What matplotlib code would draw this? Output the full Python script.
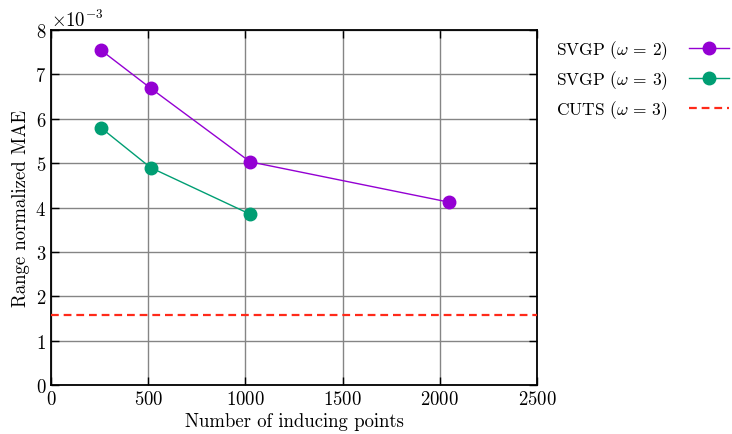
import matplotlib
matplotlib.use("Agg")
import matplotlib.pyplot as plt
import numpy as np

plt.rcParams["font.family"] = "serif"
plt.rcParams["font.serif"] = ["cmr10"]
plt.rcParams["mathtext.fontset"] = "cm"
plt.rcParams["axes.formatter.use_mathtext"] = True
plt.rcParams["font.size"] = 13.5

# data
inducing_w2 = [256, 512, 1024, 2048]
mae_w2 = [7.55e-3, 6.69e-3, 5.03e-3, 4.12e-3]
inducing_w3 = [256, 512, 1024]
mae_w3 = [5.80e-3, 4.90e-3, 3.85e-3]
cuts_w3 = 1.58e-3

fig = plt.figure(figsize=(7.32, 4.35), dpi=100)
ax = fig.add_axes([0.0697, 0.1126, 0.6639, 0.8161])

ax.plot(inducing_w2, mae_w2, color="#9400d3", marker="o", markersize=9, lw=1,
        label=r"SVGP ($\omega\,=\,2$)", zorder=3)
ax.plot(inducing_w3, mae_w3, color="#009e73", marker="o", markersize=9, lw=1,
        label=r"SVGP ($\omega\,=\,3$)", zorder=3)
ax.axhline(cuts_w3, color="#ff2a1a", ls=(0, (3.5, 2.2)), lw=1.6,
           label=r"CUTS ($\omega\,=\,3$)", zorder=3)

ax.set_xlim(0, 2500)
ax.set_ylim(0, 8e-3)
ax.set_xticks(np.arange(0, 2501, 500))
ax.set_yticks(np.arange(0, 8.1e-3, 1e-3))
ax.ticklabel_format(axis="y", style="sci", scilimits=(-3, -3))
ax.grid(True, color="#858585", lw=1)
ax.set_axisbelow(True)
for s in ax.spines.values():
    s.set_linewidth(1.3)
ax.tick_params(direction="in", top=True, right=True, length=6, width=1)

ax.set_xlabel("Number of inducing points", labelpad=3)
ax.set_ylabel("Range normalized MAE", labelpad=4)

fig.legend(loc="upper left", bbox_to_anchor=(0.738, 0.945), frameon=False,
           markerfirst=False, fontsize=12.5, handlelength=2.35,
           handletextpad=1.2, labelspacing=0.42)

fig.savefig("out.png", dpi=100)
